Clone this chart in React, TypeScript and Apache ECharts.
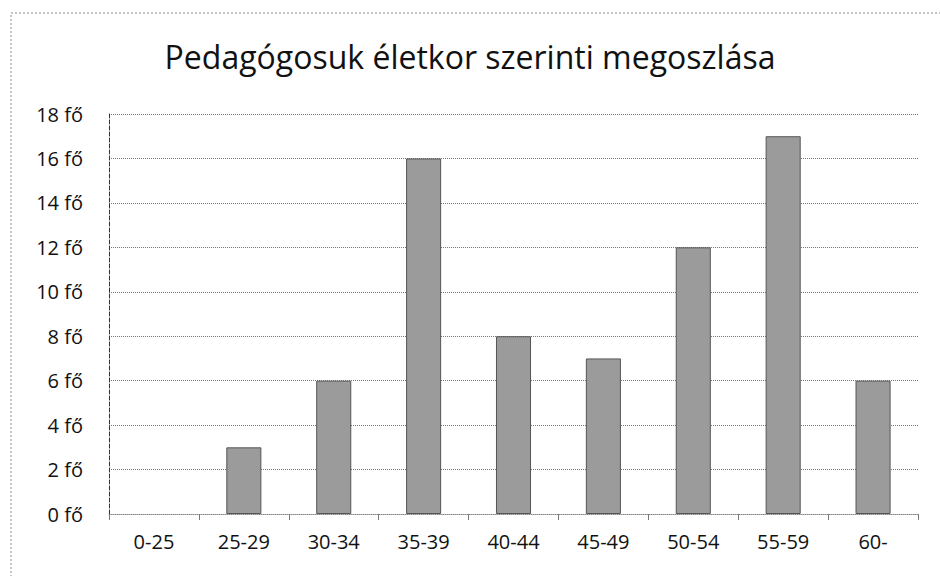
import React, { useEffect, useRef } from "react";
import * as echarts from "echarts";

const categories = ["0-25", "25-29", "30-34", "35-39", "40-44", "45-49", "50-54", "55-59", "60-"];
const values = [0, 3, 6, 16, 8, 7, 12, 17, 6];
const titleText = "Pedagógosuk életkor szerinti megoszlása";
const yMax = 18;
const yInterval = 2;

export default function App() {
  const ref = useRef<HTMLDivElement>(null);
  useEffect(() => {
    if (!ref.current) return;
    const chart = echarts.init(ref.current, null, { renderer: "svg" });
    const font = "'Open Sans', 'Noto Sans', sans-serif";
    chart.setOption({
      animation: false,
      backgroundColor: "#ffffff",
      title: {
        text: titleText,
        left: "center",
        top: 35,
        textStyle: { fontFamily: font, fontSize: 32, fontWeight: "normal", color: "#111" },
      },
      grid: { left: 109, right: 22, top: 114, bottom: 62, containLabel: false },
      xAxis: {
        type: "category",
        data: categories,
        axisLine: { show: true, lineStyle: { color: "#888", type: "dotted", width: 1 } },
        axisTick: { show: true, length: 6, lineStyle: { color: "#777" } },
        axisLabel: { fontFamily: font, fontSize: 20, color: "#111", margin: 17 },
        splitLine: { show: false },
      },
      yAxis: {
        type: "value",
        min: 0,
        max: yMax,
        interval: yInterval,
        axisLine: { show: true, lineStyle: { color: "#333", type: "dashed", width: 1 } },
        axisTick: { show: false },
        axisLabel: {
          fontFamily: font,
          fontSize: 20,
          color: "#111",
          margin: 26,
          formatter: (v: number) => `${v} fő`,
        },
        splitLine: { show: true, lineStyle: { color: "#777", type: "dotted", width: 1 } },
      },
      series: [
        {
          type: "bar",
          data: values.map((v) => (v === 0 ? { value: v, itemStyle: { borderWidth: 0 } } : v)),
          barWidth: "39%",
          itemStyle: { color: "#9b9b9b", borderColor: "#555", borderWidth: 1 },
        },
      ],
      graphic: [
        {
          type: "rect",
          shape: { x: 11, y: 13, width: 960, height: 600 },
          style: { fill: "none", stroke: "#888", lineWidth: 1, lineDash: [2, 2] },
          silent: true,
        },
      ],
    });
    return () => chart.dispose();
  }, []);
  return (
    <div
      ref={ref}
      style={{ position: "fixed", left: 0, top: 0, width: 940, height: 576 }}
    />
  );
}
